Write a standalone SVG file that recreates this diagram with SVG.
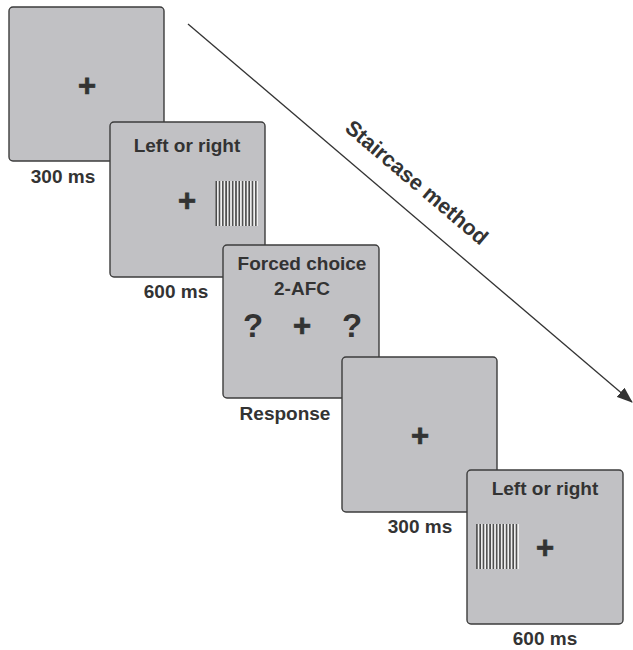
<svg xmlns="http://www.w3.org/2000/svg" width="633" height="650" viewBox="0 0 633 650">
<style>
.panel{fill:#c1c1c4;stroke:#3c3c3c;stroke-width:1.4}
.t{font-family:"Liberation Sans",Arial,sans-serif;font-weight:bold;fill:#333;text-anchor:middle}
.lbl{font-size:19px}
.plus{font-size:31px;stroke:#333;stroke-width:0.7}
.q{font-size:33px}
.grat{fill:url(#gr);stroke:none}
</style>
<defs>
<pattern id="gr" patternUnits="userSpaceOnUse" width="3.3" height="10">
<rect x="0" y="0" width="3.3" height="10" fill="#f2f2f2"/>
<rect x="0.9" y="0" width="1.6" height="10" fill="#4a4a4a"/>
</pattern>
<marker id="ah" markerWidth="16" markerHeight="12" refX="15" refY="6" orient="auto" markerUnits="userSpaceOnUse">
<path d="M0,0 L16,6 L0,12 Z" fill="#333"/>
</marker>
</defs>
<rect width="633" height="650" fill="#fff"/>
<g id="connectors">
<line x1="188" y1="24" x2="632" y2="402" stroke="#333" stroke-width="1.3" marker-end="url(#ah)"/>
<text class="t" font-size="21.5" transform="translate(412,188) rotate(40.3)">Staircase method</text>
</g>
<g id="panel1">
<rect class="panel" x="9" y="7" width="155" height="154" rx="4"/>
<text class="t plus" x="87" y="96">+</text>
<text class="t lbl" x="63" y="183">300 ms</text>
</g>
<g id="panel2">
<rect class="panel" x="110" y="122" width="155" height="155" rx="4"/>
<text class="t lbl" x="187" y="152">Left or right</text>
<text class="t plus" x="187" y="211">+</text>
<rect class="grat" x="215" y="181" width="43" height="45"/>
<text class="t lbl" x="176" y="298">600 ms</text>
</g>
<g id="panel3">
<rect class="panel" x="223" y="245" width="156" height="153" rx="4"/>
<text class="t lbl" x="302" y="270">Forced choice</text>
<text class="t lbl" x="302" y="295">2-AFC</text>
<text class="t q" x="253" y="337">?</text>
<text class="t plus" x="302" y="336">+</text>
<text class="t q" x="352" y="337">?</text>
<text class="t lbl" x="285" y="420">Response</text>
</g>
<g id="panel4">
<rect class="panel" x="342" y="357" width="155" height="155" rx="4"/>
<text class="t plus" x="420" y="446">+</text>
<text class="t lbl" x="420" y="533">300 ms</text>
</g>
<g id="panel5">
<rect class="panel" x="467" y="470" width="156" height="154" rx="4"/>
<text class="t lbl" x="545" y="495">Left or right</text>
<rect class="grat" x="476" y="524" width="43" height="45"/>
<text class="t plus" x="545" y="558">+</text>
<text class="t lbl" x="545" y="645">600 ms</text>
</g>
</svg>
